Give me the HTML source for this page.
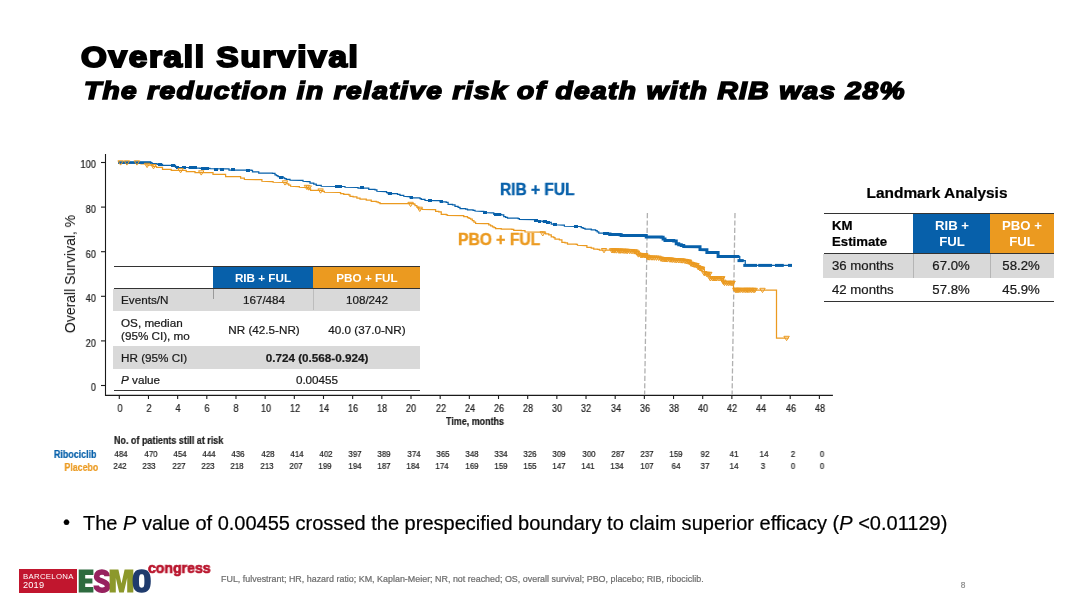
<!DOCTYPE html>
<html><head><meta charset="utf-8"><title>Overall Survival</title>
<style>
html,body{margin:0;padding:0;background:#fff;}
body{width:1067px;height:600px;position:relative;overflow:hidden;font-family:"Liberation Sans",sans-serif;}
.t{position:absolute;white-space:nowrap;color:#000;will-change:transform;-webkit-text-stroke:0.22px currentColor;}
.b{position:absolute;}
</style></head><body>
<svg width="1067" height="600" style="position:absolute;left:0;top:0">
<g stroke="#1a1a1a" stroke-width="1.1" fill="none">
<path d="M105.5 154 V395.4 H832.9"/>
<path d="M101 385.50 H105.5"/>
<path d="M101 340.90 H105.5"/>
<path d="M101 296.30 H105.5"/>
<path d="M101 251.70 H105.5"/>
<path d="M101 207.10 H105.5"/>
<path d="M101 162.50 H105.5"/>
<path d="M119.30 395.4 V399"/>
<path d="M148.47 395.4 V399"/>
<path d="M177.64 395.4 V399"/>
<path d="M206.81 395.4 V399"/>
<path d="M235.98 395.4 V399"/>
<path d="M265.15 395.4 V399"/>
<path d="M294.32 395.4 V399"/>
<path d="M323.49 395.4 V399"/>
<path d="M352.66 395.4 V399"/>
<path d="M381.83 395.4 V399"/>
<path d="M411.00 395.4 V399"/>
<path d="M440.17 395.4 V399"/>
<path d="M469.34 395.4 V399"/>
<path d="M498.51 395.4 V399"/>
<path d="M527.68 395.4 V399"/>
<path d="M556.85 395.4 V399"/>
<path d="M586.02 395.4 V399"/>
<path d="M615.19 395.4 V399"/>
<path d="M644.36 395.4 V399"/>
<path d="M673.53 395.4 V399"/>
<path d="M702.70 395.4 V399"/>
<path d="M731.87 395.4 V399"/>
<path d="M761.04 395.4 V399"/>
<path d="M790.21 395.4 V399"/>
<path d="M819.38 395.4 V399"/>
</g>
<g stroke="#b0b0b0" stroke-width="1.3" stroke-dasharray="5.2 2.2" fill="none">
<path d="M647.4 213 L644.6 394.8"/>
<path d="M735 213 L732.1 394.8"/>
</g>
<polyline points="118.10,162.50 140.00,162.50 141.00,162.50 141.00,163.75 146.00,163.75 147.00,163.75 147.00,165.00 152.00,165.00 153.00,165.00 153.00,166.25 156.00,166.25 156.50,166.25 156.50,167.25 162.50,167.25 162.50,169.40 171.25,169.40 171.25,170.25 186.25,170.25 186.25,171.50 195.00,171.50 195.00,172.50 211.50,172.50 213.00,172.50 213.00,174.40 225.00,174.40 225.60,174.40 225.60,176.50 238.75,176.50 240.60,176.50 240.60,178.10 244.40,178.10 244.40,179.40 260.00,179.60 261.90,179.60 261.90,181.25 271.90,181.50 273.10,181.50 273.10,182.25 285.00,182.50 286.88,182.50 286.88,183.75 288.75,183.75 288.75,185.00 290.60,185.00 290.60,186.25 298.10,186.50 299.40,186.50 299.40,187.25 307.50,187.50 309.05,187.50 309.05,188.88 310.60,188.88 310.60,190.25 321.25,190.25 321.25,190.60 322.82,190.60 322.82,191.43 324.40,191.43 324.40,192.25 338.75,192.50 340.60,192.50 340.60,193.50 343.75,193.50 343.75,194.40 348.75,194.40 348.75,194.75 350.00,194.75 350.00,196.25 353.10,196.25 353.10,196.90 356.90,196.90 356.90,198.10 360.00,198.10 360.00,199.20 366.25,199.20 366.25,200.00 371.25,200.00 371.25,201.25 376.25,201.25 376.25,201.90 378.12,201.90 378.12,202.70 380.00,202.70 380.00,203.50 413.75,203.50 413.75,204.00 415.00,204.00 415.00,205.60 416.88,205.60 416.88,207.18 418.75,207.18 418.75,208.75 422.50,208.75 422.50,209.40 434.40,209.60 435.60,209.60 435.60,211.25 438.75,211.25 438.75,211.90 441.25,211.90 441.25,214.40 446.25,214.40 446.25,214.75 447.50,214.75 447.50,215.40 461.90,215.60 463.75,215.60 463.75,216.60 467.50,216.60 467.50,217.50 469.05,217.50 469.05,218.25 470.60,218.25 470.60,219.00 472.27,219.00 472.27,220.50 473.93,220.50 473.93,222.00 475.60,222.00 475.60,223.50 485.00,223.60 488.75,223.60 488.75,224.75 490.62,224.75 490.62,225.82 492.50,225.82 492.50,226.90 494.05,226.90 494.05,227.70 495.60,227.70 495.60,228.50 501.25,228.50 501.25,229.00 511.90,229.00 511.90,229.40 513.75,229.40 513.75,230.25 521.25,230.25 521.25,230.60 525.00,230.60 525.00,231.90 540.00,232.10 542.80,232.10 542.80,232.93 545.60,232.93 545.60,233.75 548.75,233.75 548.75,234.75 551.25,234.75 551.25,236.90 553.75,236.90 553.75,237.50 555.00,237.50 555.00,239.00 559.40,239.00 559.40,239.75 561.90,239.75 561.90,242.25 565.00,242.25 565.00,242.90 567.50,242.90 567.50,244.10 576.25,244.10 576.25,244.40 577.50,244.40 577.50,245.25 585.00,245.50 586.90,245.50 586.90,247.25 591.25,247.25 591.25,248.10 593.75,248.10 593.75,249.00 597.50,249.00 597.50,249.40 599.40,249.40 599.40,250.00 612.00,250.00 612.00,250.40 625.00,250.40 625.00,250.90 631.00,251.20 636.25,251.20 636.25,251.70 638.75,251.70 638.75,255.00 646.25,255.00 646.25,255.40 647.50,255.40 647.50,257.50 660.00,257.50 660.00,257.90 661.25,257.90 661.25,259.10 670.00,259.10 670.00,259.60 675.00,259.60 675.00,260.20 683.00,260.20 683.00,260.60 689.40,260.60 689.40,261.90 691.25,261.90 691.25,264.10 696.90,264.10 696.90,265.40 698.75,265.40 698.75,268.10 703.75,268.10 703.75,269.20 704.40,269.20 704.40,274.00 709.40,274.00 710.00,274.00 710.00,278.40 723.10,278.40 723.50,278.40 723.50,283.00 733.50,283.00 733.50,290.00 776.50,290.00 776.50,338.00 788.50,338.00" fill="none" stroke="#eb9a20" stroke-width="1.25"/>
<polyline points="118.10,162.50 151.00,162.50 152.00,162.50 152.00,163.60 157.00,163.60 157.00,164.40 162.00,164.40 162.50,164.40 162.50,165.25 175.00,165.25 175.50,165.25 175.50,167.40 188.00,167.50 189.00,167.50 189.00,168.00 200.00,168.00 200.00,168.30 210.00,168.30 210.00,168.75 228.00,168.90 229.00,168.90 229.00,170.00 235.00,170.00 251.25,170.00 251.25,170.40 252.50,170.40 252.50,171.90 258.75,171.90 258.75,173.10 272.50,173.10 272.50,173.40 275.00,173.40 275.00,174.75 276.50,174.75 276.50,175.62 278.00,175.62 278.00,176.50 283.00,176.50 283.00,177.75 284.62,177.75 284.62,178.57 286.25,178.57 286.25,179.40 290.00,179.40 290.00,180.25 301.25,180.40 303.00,180.40 303.00,181.25 308.00,181.50 310.00,181.50 310.00,183.10 313.75,183.10 313.75,184.00 316.25,184.00 316.25,185.40 321.25,185.40 321.25,186.25 343.75,186.50 345.00,186.50 345.00,187.25 356.90,187.50 358.00,187.50 358.00,188.10 365.00,188.10 368.75,188.10 368.75,189.40 375.00,189.40 375.00,189.75 376.90,189.75 376.90,191.25 385.00,191.50 386.55,191.50 386.55,192.50 388.10,192.50 388.10,193.50 397.50,193.50 397.50,194.40 400.00,194.40 400.00,195.40 403.75,195.40 403.75,196.25 408.10,196.50 410.00,196.50 410.00,197.75 420.00,197.75 420.00,198.50 421.25,198.50 421.25,199.40 425.00,199.40 425.00,200.40 436.25,200.60 440.00,200.60 440.00,201.90 446.25,201.90 446.25,202.25 448.10,202.25 448.10,204.40 452.50,204.40 452.50,204.75 455.00,204.75 455.00,206.25 458.10,206.25 458.10,207.25 460.00,207.25 460.00,208.50 465.60,208.50 465.60,209.00 467.50,209.00 467.50,209.75 473.10,209.75 473.10,210.25 475.00,210.25 475.00,211.00 481.90,211.25 483.75,211.25 483.75,212.50 491.25,212.75 493.75,212.75 493.75,214.40 501.25,214.40 501.25,214.75 503.75,214.75 503.75,216.50 505.62,216.50 505.62,217.30 507.50,217.30 507.50,218.10 518.10,218.10 518.10,218.50 519.40,218.50 519.40,219.40 534.40,219.60 536.25,219.60 536.25,221.00 542.50,221.00 542.50,221.50 548.75,221.50 548.75,222.25 551.25,222.25 551.25,224.00 556.25,224.00 556.25,224.75 562.50,225.00 564.40,225.00 564.40,226.25 578.75,226.50 581.25,226.50 581.25,227.50 583.12,227.50 583.12,228.25 585.00,228.25 585.00,229.00 591.25,229.00 591.25,229.75 595.60,229.75 595.60,230.60 597.17,230.60 597.17,231.80 598.75,231.80 598.75,233.00 606.00,233.00 606.00,233.50 610.00,233.50 610.00,234.40 620.00,234.40 620.00,234.75 621.25,234.75 621.25,235.60 643.75,235.60 646.25,235.60 646.25,236.90 661.25,236.90 661.25,237.25 663.12,237.25 663.12,238.93 665.00,238.93 665.00,240.60 673.75,240.60 673.75,241.00 676.25,241.00 676.25,243.75 678.75,243.75 678.75,244.68 681.25,244.68 681.25,245.60 683.75,245.60 683.75,246.50 699.40,246.75 700.00,246.75 700.00,249.60 706.25,249.75 706.90,249.75 706.90,252.40 717.50,252.50 718.10,252.50 718.10,256.50 739.40,256.50 739.75,256.50 739.75,260.60 745.00,260.60 745.25,260.60 745.25,265.40 791.90,265.40" fill="none" stroke="#0760aa" stroke-width="1.25"/>
<rect x="158.10" y="162.90" width="3.8" height="3" fill="#0760aa" shape-rendering="crispEdges"/>
<rect x="171.20" y="163.90" width="3.8" height="3" fill="#0760aa" shape-rendering="crispEdges"/>
<rect x="175.60" y="166.00" width="3.8" height="3" fill="#0760aa" shape-rendering="crispEdges"/>
<rect x="181.85" y="166.00" width="3.8" height="3" fill="#0760aa" shape-rendering="crispEdges"/>
<rect x="189.35" y="166.40" width="3.8" height="3" fill="#0760aa" shape-rendering="crispEdges"/>
<rect x="193.10" y="166.40" width="3.8" height="3" fill="#0760aa" shape-rendering="crispEdges"/>
<rect x="201.20" y="167.00" width="3.8" height="3" fill="#0760aa" shape-rendering="crispEdges"/>
<rect x="205.00" y="167.00" width="3.8" height="3" fill="#0760aa" shape-rendering="crispEdges"/>
<rect x="213.70" y="167.50" width="3.8" height="3" fill="#0760aa" shape-rendering="crispEdges"/>
<rect x="220.00" y="167.50" width="3.8" height="3" fill="#0760aa" shape-rendering="crispEdges"/>
<rect x="231.20" y="168.10" width="3.8" height="3" fill="#0760aa" shape-rendering="crispEdges"/>
<rect x="246.00" y="168.90" width="3.8" height="3" fill="#0760aa" shape-rendering="crispEdges"/>
<rect x="279.10" y="175.75" width="3.8" height="3" fill="#0760aa" shape-rendering="crispEdges"/>
<rect x="335.00" y="185.00" width="3.8" height="3" fill="#0760aa" shape-rendering="crispEdges"/>
<rect x="338.10" y="185.00" width="3.8" height="3" fill="#0760aa" shape-rendering="crispEdges"/>
<rect x="360.00" y="186.10" width="3.8" height="3" fill="#0760aa" shape-rendering="crispEdges"/>
<rect x="387.70" y="191.90" width="3.8" height="3" fill="#0760aa" shape-rendering="crispEdges"/>
<rect x="409.60" y="196.00" width="3.8" height="3" fill="#0760aa" shape-rendering="crispEdges"/>
<rect x="428.10" y="199.00" width="3.8" height="3" fill="#0760aa" shape-rendering="crispEdges"/>
<rect x="439.60" y="200.20" width="3.8" height="3" fill="#0760aa" shape-rendering="crispEdges"/>
<rect x="483.10" y="211.00" width="3.8" height="3" fill="#0760aa" shape-rendering="crispEdges"/>
<rect x="493.70" y="213.00" width="3.8" height="3" fill="#0760aa" shape-rendering="crispEdges"/>
<rect x="496.85" y="213.10" width="3.8" height="3" fill="#0760aa" shape-rendering="crispEdges"/>
<rect x="534.35" y="219.40" width="3.8" height="3" fill="#0760aa" shape-rendering="crispEdges"/>
<rect x="537.50" y="219.90" width="3.8" height="3" fill="#0760aa" shape-rendering="crispEdges"/>
<rect x="543.10" y="220.20" width="3.8" height="3" fill="#0760aa" shape-rendering="crispEdges"/>
<rect x="546.20" y="220.75" width="3.8" height="3" fill="#0760aa" shape-rendering="crispEdges"/>
<rect x="553.10" y="223.00" width="3.8" height="3" fill="#0760aa" shape-rendering="crispEdges"/>
<rect x="574.35" y="224.90" width="3.8" height="3" fill="#0760aa" shape-rendering="crispEdges"/>
<rect x="602.50" y="231.50" width="3.8" height="3" fill="#0760aa" shape-rendering="crispEdges"/>
<rect x="605.00" y="232.00" width="3.8" height="3" fill="#0760aa" shape-rendering="crispEdges"/>
<polyline points="608.00,233.95 610.00,233.95 610.00,234.40 620.00,234.40 620.00,234.75 621.25,234.75 621.25,235.60 643.75,235.60 646.25,235.60 646.25,236.90 661.25,236.90 661.25,237.25 663.12,237.25 663.12,238.93 665.00,238.93 665.00,240.60 673.75,240.60 673.75,241.00 676.25,241.00 676.25,243.75 678.75,243.75 678.75,244.68 681.25,244.68 681.25,245.60 683.75,245.60 683.75,246.50 699.40,246.75 700.00,246.75 700.00,249.60 706.25,249.75 706.90,249.75 706.90,252.40 717.50,252.50 718.10,252.50 718.10,256.50 739.40,256.50" fill="none" stroke="#0760aa" stroke-width="3" stroke-linejoin="miter"/>
<rect x="737.50" y="259.10" width="6.25" height="3" fill="#0760aa"/>
<rect x="743.30" y="263.90" width="13.70" height="3" fill="#0760aa"/>
<rect x="758.20" y="263.90" width="13.80" height="3" fill="#0760aa"/>
<rect x="775.00" y="263.90" width="8.80" height="3" fill="#0760aa"/>
<rect x="788.00" y="263.90" width="4.00" height="3" fill="#0760aa"/>
<rect x="118.1" y="161.2" width="33.2" height="2.7" fill="#0760aa"/>
<path d="M117.90 160.80 h5.4 l-2.7 4.3 z" fill="#eb9a20" fill-opacity="0" stroke="#eb9a20" stroke-width="1" stroke-linejoin="miter"/>
<path d="M124.20 160.80 h5.4 l-2.7 4.3 z" fill="#eb9a20" fill-opacity="0" stroke="#eb9a20" stroke-width="1" stroke-linejoin="miter"/>
<path d="M134.20 160.80 h5.4 l-2.7 4.3 z" fill="#eb9a20" fill-opacity="0" stroke="#eb9a20" stroke-width="1" stroke-linejoin="miter"/>
<path d="M144.40 163.30 h5.4 l-2.7 4.3 z" fill="#eb9a20" fill-opacity="0" stroke="#eb9a20" stroke-width="1" stroke-linejoin="miter"/>
<path d="M150.80 164.55 h5.4 l-2.7 4.3 z" fill="#eb9a20" fill-opacity="0" stroke="#eb9a20" stroke-width="1" stroke-linejoin="miter"/>
<path d="M177.90 168.55 h5.4 l-2.7 4.3 z" fill="#eb9a20" fill-opacity="0" stroke="#eb9a20" stroke-width="1" stroke-linejoin="miter"/>
<path d="M198.55 170.80 h5.4 l-2.7 4.3 z" fill="#eb9a20" fill-opacity="0" stroke="#eb9a20" stroke-width="1" stroke-linejoin="miter"/>
<path d="M282.30 180.80 h5.4 l-2.7 4.3 z" fill="#eb9a20" fill-opacity="0" stroke="#eb9a20" stroke-width="1" stroke-linejoin="miter"/>
<path d="M304.20 185.30 h5.4 l-2.7 4.3 z" fill="#eb9a20" fill-opacity="0" stroke="#eb9a20" stroke-width="1" stroke-linejoin="miter"/>
<path d="M306.05 185.90 h5.4 l-2.7 4.3 z" fill="#eb9a20" fill-opacity="0" stroke="#eb9a20" stroke-width="1" stroke-linejoin="miter"/>
<path d="M317.90 188.90 h5.4 l-2.7 4.3 z" fill="#eb9a20" fill-opacity="0" stroke="#eb9a20" stroke-width="1" stroke-linejoin="miter"/>
<path d="M407.90 202.30 h5.4 l-2.7 4.3 z" fill="#eb9a20" fill-opacity="0" stroke="#eb9a20" stroke-width="1" stroke-linejoin="miter"/>
<path d="M417.05 207.20 h5.4 l-2.7 4.3 z" fill="#eb9a20" fill-opacity="0" stroke="#eb9a20" stroke-width="1" stroke-linejoin="miter"/>
<path d="M540.05 231.70 h5.4 l-2.7 4.3 z" fill="#eb9a20" fill-opacity="0" stroke="#eb9a20" stroke-width="1" stroke-linejoin="miter"/>
<path d="M601.30 248.50 h5.4 l-2.7 4.3 z" fill="#eb9a20" fill-opacity="0" stroke="#eb9a20" stroke-width="1" stroke-linejoin="miter"/>
<path d="M759.80 288.30 h5.4 l-2.7 4.3 z" fill="#eb9a20" fill-opacity="0" stroke="#eb9a20" stroke-width="1" stroke-linejoin="miter"/>
<path d="M783.90 336.30 h5.4 l-2.7 4.3 z" fill="#eb9a20" fill-opacity="0" stroke="#eb9a20" stroke-width="1" stroke-linejoin="miter"/>
<path d="M609.30 248.70 h5.4 l-2.7 4.3 z" fill="#eb9a20" fill-opacity="0.35" stroke="#eb9a20" stroke-width="1" stroke-linejoin="miter"/>
<path d="M610.70 248.75 h5.4 l-2.7 4.3 z" fill="#eb9a20" fill-opacity="0.35" stroke="#eb9a20" stroke-width="1" stroke-linejoin="miter"/>
<path d="M612.10 248.81 h5.4 l-2.7 4.3 z" fill="#eb9a20" fill-opacity="0.35" stroke="#eb9a20" stroke-width="1" stroke-linejoin="miter"/>
<path d="M613.80 248.87 h5.4 l-2.7 4.3 z" fill="#eb9a20" fill-opacity="0.35" stroke="#eb9a20" stroke-width="1" stroke-linejoin="miter"/>
<path d="M616.00 248.96 h5.4 l-2.7 4.3 z" fill="#eb9a20" fill-opacity="0.35" stroke="#eb9a20" stroke-width="1" stroke-linejoin="miter"/>
<path d="M617.10 249.00 h5.4 l-2.7 4.3 z" fill="#eb9a20" fill-opacity="0.35" stroke="#eb9a20" stroke-width="1" stroke-linejoin="miter"/>
<path d="M618.20 249.04 h5.4 l-2.7 4.3 z" fill="#eb9a20" fill-opacity="0.35" stroke="#eb9a20" stroke-width="1" stroke-linejoin="miter"/>
<path d="M620.40 249.13 h5.4 l-2.7 4.3 z" fill="#eb9a20" fill-opacity="0.35" stroke="#eb9a20" stroke-width="1" stroke-linejoin="miter"/>
<path d="M622.10 249.19 h5.4 l-2.7 4.3 z" fill="#eb9a20" fill-opacity="0.35" stroke="#eb9a20" stroke-width="1" stroke-linejoin="miter"/>
<path d="M623.50 249.26 h5.4 l-2.7 4.3 z" fill="#eb9a20" fill-opacity="0.35" stroke="#eb9a20" stroke-width="1" stroke-linejoin="miter"/>
<path d="M624.90 249.33 h5.4 l-2.7 4.3 z" fill="#eb9a20" fill-opacity="0.35" stroke="#eb9a20" stroke-width="1" stroke-linejoin="miter"/>
<path d="M627.10 249.44 h5.4 l-2.7 4.3 z" fill="#eb9a20" fill-opacity="0.35" stroke="#eb9a20" stroke-width="1" stroke-linejoin="miter"/>
<path d="M629.30 249.60 h5.4 l-2.7 4.3 z" fill="#eb9a20" fill-opacity="0.35" stroke="#eb9a20" stroke-width="1" stroke-linejoin="miter"/>
<path d="M631.50 249.80 h5.4 l-2.7 4.3 z" fill="#eb9a20" fill-opacity="0.35" stroke="#eb9a20" stroke-width="1" stroke-linejoin="miter"/>
<path d="M632.90 249.94 h5.4 l-2.7 4.3 z" fill="#eb9a20" fill-opacity="0.35" stroke="#eb9a20" stroke-width="1" stroke-linejoin="miter"/>
<path d="M634.30 250.99 h5.4 l-2.7 4.3 z" fill="#eb9a20" fill-opacity="0.35" stroke="#eb9a20" stroke-width="1" stroke-linejoin="miter"/>
<path d="M635.70 252.84 h5.4 l-2.7 4.3 z" fill="#eb9a20" fill-opacity="0.35" stroke="#eb9a20" stroke-width="1" stroke-linejoin="miter"/>
<path d="M637.90 253.40 h5.4 l-2.7 4.3 z" fill="#eb9a20" fill-opacity="0.35" stroke="#eb9a20" stroke-width="1" stroke-linejoin="miter"/>
<path d="M639.00 253.46 h5.4 l-2.7 4.3 z" fill="#eb9a20" fill-opacity="0.35" stroke="#eb9a20" stroke-width="1" stroke-linejoin="miter"/>
<path d="M640.10 253.52 h5.4 l-2.7 4.3 z" fill="#eb9a20" fill-opacity="0.35" stroke="#eb9a20" stroke-width="1" stroke-linejoin="miter"/>
<path d="M641.50 253.59 h5.4 l-2.7 4.3 z" fill="#eb9a20" fill-opacity="0.35" stroke="#eb9a20" stroke-width="1" stroke-linejoin="miter"/>
<path d="M642.60 253.65 h5.4 l-2.7 4.3 z" fill="#eb9a20" fill-opacity="0.35" stroke="#eb9a20" stroke-width="1" stroke-linejoin="miter"/>
<path d="M644.30 254.96 h5.4 l-2.7 4.3 z" fill="#eb9a20" fill-opacity="0.35" stroke="#eb9a20" stroke-width="1" stroke-linejoin="miter"/>
<path d="M645.40 255.82 h5.4 l-2.7 4.3 z" fill="#eb9a20" fill-opacity="0.35" stroke="#eb9a20" stroke-width="1" stroke-linejoin="miter"/>
<path d="M647.10 255.87 h5.4 l-2.7 4.3 z" fill="#eb9a20" fill-opacity="0.35" stroke="#eb9a20" stroke-width="1" stroke-linejoin="miter"/>
<path d="M649.30 255.94 h5.4 l-2.7 4.3 z" fill="#eb9a20" fill-opacity="0.35" stroke="#eb9a20" stroke-width="1" stroke-linejoin="miter"/>
<path d="M651.50 256.01 h5.4 l-2.7 4.3 z" fill="#eb9a20" fill-opacity="0.35" stroke="#eb9a20" stroke-width="1" stroke-linejoin="miter"/>
<path d="M653.70 256.08 h5.4 l-2.7 4.3 z" fill="#eb9a20" fill-opacity="0.35" stroke="#eb9a20" stroke-width="1" stroke-linejoin="miter"/>
<path d="M655.90 256.16 h5.4 l-2.7 4.3 z" fill="#eb9a20" fill-opacity="0.35" stroke="#eb9a20" stroke-width="1" stroke-linejoin="miter"/>
<path d="M658.10 256.97 h5.4 l-2.7 4.3 z" fill="#eb9a20" fill-opacity="0.35" stroke="#eb9a20" stroke-width="1" stroke-linejoin="miter"/>
<path d="M659.50 257.45 h5.4 l-2.7 4.3 z" fill="#eb9a20" fill-opacity="0.35" stroke="#eb9a20" stroke-width="1" stroke-linejoin="miter"/>
<path d="M661.20 257.55 h5.4 l-2.7 4.3 z" fill="#eb9a20" fill-opacity="0.35" stroke="#eb9a20" stroke-width="1" stroke-linejoin="miter"/>
<path d="M662.30 257.61 h5.4 l-2.7 4.3 z" fill="#eb9a20" fill-opacity="0.35" stroke="#eb9a20" stroke-width="1" stroke-linejoin="miter"/>
<path d="M663.40 257.68 h5.4 l-2.7 4.3 z" fill="#eb9a20" fill-opacity="0.35" stroke="#eb9a20" stroke-width="1" stroke-linejoin="miter"/>
<path d="M664.80 257.76 h5.4 l-2.7 4.3 z" fill="#eb9a20" fill-opacity="0.35" stroke="#eb9a20" stroke-width="1" stroke-linejoin="miter"/>
<path d="M667.00 257.88 h5.4 l-2.7 4.3 z" fill="#eb9a20" fill-opacity="0.35" stroke="#eb9a20" stroke-width="1" stroke-linejoin="miter"/>
<path d="M668.40 258.03 h5.4 l-2.7 4.3 z" fill="#eb9a20" fill-opacity="0.35" stroke="#eb9a20" stroke-width="1" stroke-linejoin="miter"/>
<path d="M670.10 258.24 h5.4 l-2.7 4.3 z" fill="#eb9a20" fill-opacity="0.35" stroke="#eb9a20" stroke-width="1" stroke-linejoin="miter"/>
<path d="M672.30 258.50 h5.4 l-2.7 4.3 z" fill="#eb9a20" fill-opacity="0.35" stroke="#eb9a20" stroke-width="1" stroke-linejoin="miter"/>
<path d="M674.00 258.59 h5.4 l-2.7 4.3 z" fill="#eb9a20" fill-opacity="0.35" stroke="#eb9a20" stroke-width="1" stroke-linejoin="miter"/>
<path d="M676.20 258.70 h5.4 l-2.7 4.3 z" fill="#eb9a20" fill-opacity="0.35" stroke="#eb9a20" stroke-width="1" stroke-linejoin="miter"/>
<path d="M678.40 258.81 h5.4 l-2.7 4.3 z" fill="#eb9a20" fill-opacity="0.35" stroke="#eb9a20" stroke-width="1" stroke-linejoin="miter"/>
<path d="M680.10 258.89 h5.4 l-2.7 4.3 z" fill="#eb9a20" fill-opacity="0.35" stroke="#eb9a20" stroke-width="1" stroke-linejoin="miter"/>
<path d="M682.30 259.31 h5.4 l-2.7 4.3 z" fill="#eb9a20" fill-opacity="0.35" stroke="#eb9a20" stroke-width="1" stroke-linejoin="miter"/>
<path d="M683.70 259.59 h5.4 l-2.7 4.3 z" fill="#eb9a20" fill-opacity="0.35" stroke="#eb9a20" stroke-width="1" stroke-linejoin="miter"/>
<path d="M685.40 259.94 h5.4 l-2.7 4.3 z" fill="#eb9a20" fill-opacity="0.35" stroke="#eb9a20" stroke-width="1" stroke-linejoin="miter"/>
<path d="M686.50 260.16 h5.4 l-2.7 4.3 z" fill="#eb9a20" fill-opacity="0.35" stroke="#eb9a20" stroke-width="1" stroke-linejoin="miter"/>
<path d="M688.20 261.98 h5.4 l-2.7 4.3 z" fill="#eb9a20" fill-opacity="0.35" stroke="#eb9a20" stroke-width="1" stroke-linejoin="miter"/>
<path d="M689.60 262.64 h5.4 l-2.7 4.3 z" fill="#eb9a20" fill-opacity="0.35" stroke="#eb9a20" stroke-width="1" stroke-linejoin="miter"/>
<path d="M691.30 263.03 h5.4 l-2.7 4.3 z" fill="#eb9a20" fill-opacity="0.35" stroke="#eb9a20" stroke-width="1" stroke-linejoin="miter"/>
<path d="M692.40 263.29 h5.4 l-2.7 4.3 z" fill="#eb9a20" fill-opacity="0.35" stroke="#eb9a20" stroke-width="1" stroke-linejoin="miter"/>
<path d="M693.80 263.61 h5.4 l-2.7 4.3 z" fill="#eb9a20" fill-opacity="0.35" stroke="#eb9a20" stroke-width="1" stroke-linejoin="miter"/>
<path d="M695.50 265.60 h5.4 l-2.7 4.3 z" fill="#eb9a20" fill-opacity="0.35" stroke="#eb9a20" stroke-width="1" stroke-linejoin="miter"/>
<path d="M697.20 266.65 h5.4 l-2.7 4.3 z" fill="#eb9a20" fill-opacity="0.35" stroke="#eb9a20" stroke-width="1" stroke-linejoin="miter"/>
<path d="M698.30 266.90 h5.4 l-2.7 4.3 z" fill="#eb9a20" fill-opacity="0.35" stroke="#eb9a20" stroke-width="1" stroke-linejoin="miter"/>
<path d="M699.40 267.14 h5.4 l-2.7 4.3 z" fill="#eb9a20" fill-opacity="0.35" stroke="#eb9a20" stroke-width="1" stroke-linejoin="miter"/>
<path d="M701.60 271.56 h5.4 l-2.7 4.3 z" fill="#eb9a20" fill-opacity="0.35" stroke="#eb9a20" stroke-width="1" stroke-linejoin="miter"/>
<path d="M703.80 272.30 h5.4 l-2.7 4.3 z" fill="#eb9a20" fill-opacity="0.35" stroke="#eb9a20" stroke-width="1" stroke-linejoin="miter"/>
<path d="M704.90 272.30 h5.4 l-2.7 4.3 z" fill="#eb9a20" fill-opacity="0.35" stroke="#eb9a20" stroke-width="1" stroke-linejoin="miter"/>
<path d="M706.60 272.30 h5.4 l-2.7 4.3 z" fill="#eb9a20" fill-opacity="0.35" stroke="#eb9a20" stroke-width="1" stroke-linejoin="miter"/>
<path d="M707.70 276.70 h5.4 l-2.7 4.3 z" fill="#eb9a20" fill-opacity="0.35" stroke="#eb9a20" stroke-width="1" stroke-linejoin="miter"/>
<path d="M709.90 276.70 h5.4 l-2.7 4.3 z" fill="#eb9a20" fill-opacity="0.35" stroke="#eb9a20" stroke-width="1" stroke-linejoin="miter"/>
<path d="M711.30 276.70 h5.4 l-2.7 4.3 z" fill="#eb9a20" fill-opacity="0.35" stroke="#eb9a20" stroke-width="1" stroke-linejoin="miter"/>
<path d="M712.40 276.70 h5.4 l-2.7 4.3 z" fill="#eb9a20" fill-opacity="0.35" stroke="#eb9a20" stroke-width="1" stroke-linejoin="miter"/>
<path d="M714.10 276.70 h5.4 l-2.7 4.3 z" fill="#eb9a20" fill-opacity="0.35" stroke="#eb9a20" stroke-width="1" stroke-linejoin="miter"/>
<path d="M716.30 276.70 h5.4 l-2.7 4.3 z" fill="#eb9a20" fill-opacity="0.35" stroke="#eb9a20" stroke-width="1" stroke-linejoin="miter"/>
<path d="M718.50 276.70 h5.4 l-2.7 4.3 z" fill="#eb9a20" fill-opacity="0.35" stroke="#eb9a20" stroke-width="1" stroke-linejoin="miter"/>
<path d="M719.60 276.70 h5.4 l-2.7 4.3 z" fill="#eb9a20" fill-opacity="0.35" stroke="#eb9a20" stroke-width="1" stroke-linejoin="miter"/>
<path d="M720.70 280.15 h5.4 l-2.7 4.3 z" fill="#eb9a20" fill-opacity="0.35" stroke="#eb9a20" stroke-width="1" stroke-linejoin="miter"/>
<path d="M721.80 281.30 h5.4 l-2.7 4.3 z" fill="#eb9a20" fill-opacity="0.35" stroke="#eb9a20" stroke-width="1" stroke-linejoin="miter"/>
<path d="M724.00 281.30 h5.4 l-2.7 4.3 z" fill="#eb9a20" fill-opacity="0.35" stroke="#eb9a20" stroke-width="1" stroke-linejoin="miter"/>
<path d="M725.70 281.30 h5.4 l-2.7 4.3 z" fill="#eb9a20" fill-opacity="0.35" stroke="#eb9a20" stroke-width="1" stroke-linejoin="miter"/>
<path d="M727.40 281.30 h5.4 l-2.7 4.3 z" fill="#eb9a20" fill-opacity="0.35" stroke="#eb9a20" stroke-width="1" stroke-linejoin="miter"/>
<path d="M728.80 281.30 h5.4 l-2.7 4.3 z" fill="#eb9a20" fill-opacity="0.35" stroke="#eb9a20" stroke-width="1" stroke-linejoin="miter"/>
<path d="M729.90 281.30 h5.4 l-2.7 4.3 z" fill="#eb9a20" fill-opacity="0.35" stroke="#eb9a20" stroke-width="1" stroke-linejoin="miter"/>
<path d="M732.70 288.30 h5.4 l-2.7 4.3 z" fill="#eb9a20" fill-opacity="0.35" stroke="#eb9a20" stroke-width="1" stroke-linejoin="miter"/>
<path d="M733.80 288.30 h5.4 l-2.7 4.3 z" fill="#eb9a20" fill-opacity="0.35" stroke="#eb9a20" stroke-width="1" stroke-linejoin="miter"/>
<path d="M734.90 288.30 h5.4 l-2.7 4.3 z" fill="#eb9a20" fill-opacity="0.35" stroke="#eb9a20" stroke-width="1" stroke-linejoin="miter"/>
<path d="M736.00 288.30 h5.4 l-2.7 4.3 z" fill="#eb9a20" fill-opacity="0.35" stroke="#eb9a20" stroke-width="1" stroke-linejoin="miter"/>
<path d="M737.40 288.30 h5.4 l-2.7 4.3 z" fill="#eb9a20" fill-opacity="0.35" stroke="#eb9a20" stroke-width="1" stroke-linejoin="miter"/>
<path d="M739.60 288.30 h5.4 l-2.7 4.3 z" fill="#eb9a20" fill-opacity="0.35" stroke="#eb9a20" stroke-width="1" stroke-linejoin="miter"/>
<path d="M741.30 288.30 h5.4 l-2.7 4.3 z" fill="#eb9a20" fill-opacity="0.35" stroke="#eb9a20" stroke-width="1" stroke-linejoin="miter"/>
<path d="M743.00 288.30 h5.4 l-2.7 4.3 z" fill="#eb9a20" fill-opacity="0.35" stroke="#eb9a20" stroke-width="1" stroke-linejoin="miter"/>
<path d="M744.40 288.30 h5.4 l-2.7 4.3 z" fill="#eb9a20" fill-opacity="0.35" stroke="#eb9a20" stroke-width="1" stroke-linejoin="miter"/>
<path d="M745.50 288.30 h5.4 l-2.7 4.3 z" fill="#eb9a20" fill-opacity="0.35" stroke="#eb9a20" stroke-width="1" stroke-linejoin="miter"/>
<path d="M747.20 288.30 h5.4 l-2.7 4.3 z" fill="#eb9a20" fill-opacity="0.35" stroke="#eb9a20" stroke-width="1" stroke-linejoin="miter"/>
<path d="M748.90 288.30 h5.4 l-2.7 4.3 z" fill="#eb9a20" fill-opacity="0.35" stroke="#eb9a20" stroke-width="1" stroke-linejoin="miter"/>
<path d="M750.60 288.30 h5.4 l-2.7 4.3 z" fill="#eb9a20" fill-opacity="0.35" stroke="#eb9a20" stroke-width="1" stroke-linejoin="miter"/>
<path d="M752.00 288.30 h5.4 l-2.7 4.3 z" fill="#eb9a20" fill-opacity="0.35" stroke="#eb9a20" stroke-width="1" stroke-linejoin="miter"/>
</svg>
<!-- titles -->
<div class="t" id="title" style="left:80.6px;top:36.7px;font-size:29px;line-height:40px;font-weight:bold;transform:scaleX(1.145);transform-origin:left center;-webkit-text-stroke:2px #000;letter-spacing:1.5px;">Overall Survival</div>
<div class="t" id="sub" style="left:84.2px;top:73.9px;font-size:24.5px;line-height:34px;font-weight:bold;font-style:italic;transform:scaleX(1.147);transform-origin:left center;-webkit-text-stroke:1.6px #000;letter-spacing:1.2px;">The reduction in relative risk of death with RIB was 28%</div>
<div class="t" id="ylab" style="left:70.2px;top:273.9px;font-size:14px;line-height:16px;color:#111;-webkit-text-stroke:0;transform:translate(-50%,-50%) rotate(-90deg);transform-origin:center center;">Overall Survival, %</div>

<!-- inset table -->
<div class="b" style="left:113.5px;top:266px;width:306.5px;height:1.2px;background:#333;"></div>
<div class="b" style="left:213px;top:267px;width:99.8px;height:21px;background:#0760aa;"></div>
<div class="b" style="left:312.8px;top:267px;width:107.2px;height:21px;background:#eb9a20;"></div>
<div class="b" style="left:113.5px;top:287.7px;width:306.5px;height:1.1px;background:#333;"></div>
<div class="b" style="left:113.2px;top:288.8px;width:306.8px;height:22px;background:#d9d9d9;"></div>
<div class="b" style="left:212.7px;top:288.8px;width:0.8px;height:10.5px;background:#9a9a9a;"></div>
<div class="b" style="left:312.5px;top:288.8px;width:0.8px;height:21.6px;background:#bdbdbd;"></div>
<div class="b" style="left:113.2px;top:346.1px;width:306.8px;height:22.5px;background:#d9d9d9;"></div>
<div class="b" style="left:113.5px;top:390px;width:306.5px;height:1.1px;background:#333;"></div>

<!-- landmark table -->
<div class="b" style="left:823.8px;top:213px;width:229.8px;height:1.1px;background:#333;"></div>
<div class="b" style="left:913.2px;top:214px;width:76.7px;height:39px;background:#0760aa;"></div>
<div class="b" style="left:989.9px;top:214px;width:63.7px;height:39px;background:#eb9a20;"></div>
<div class="b" style="left:823.8px;top:252.8px;width:229.8px;height:1.1px;background:#333;"></div>
<div class="b" style="left:823.2px;top:253.9px;width:230.4px;height:23.7px;background:#d9d9d9;"></div>
<div class="b" style="left:912.9px;top:253.9px;width:0.8px;height:23.7px;background:#b5b5b5;"></div>
<div class="b" style="left:989.6px;top:253.9px;width:0.8px;height:23.7px;background:#b5b5b5;"></div>
<div class="b" style="left:823.8px;top:301.2px;width:229.8px;height:1.1px;background:#333;"></div>
<!-- logo -->
<div class="b" style="left:18.7px;top:569px;width:58.3px;height:23.5px;background:#c1162e;"></div>

<svg width="230" height="45" viewBox="0 555 230 45" style="position:absolute;left:0;top:555px">
<path d="M78.7 569.5 H93.4 V575 H85.2 V578.4 H92.4 V583.4 H85.2 V587 H93.4 V592.4 H78.7 Z" fill="#2e6b3f"/>
<path d="M107.2 576.2 C107.2 570.6 96.6 570.4 96.6 576.4 C96.6 582.2 107.6 580.2 107.6 586.4 C107.6 591.8 96.2 591.6 96.2 585.6" fill="none" stroke="#97225f" stroke-width="5.6"/>
<path d="M109.6 592.4 V569.5 H118.4 L121.5 583.5 L124.6 569.5 H133.3 V592.4 H127.2 V578 L123.8 592.4 H119.2 L115.8 578 V592.4 Z" fill="#8c982b"/>
<path d="M141.7 569.2 C135 569.2 132.6 573 132.6 581 C132.6 589 135 592.7 141.7 592.7 C148.4 592.7 150.8 589 150.8 581 C150.8 573 148.4 569.2 141.7 569.2 Z M141.7 574.2 C144 574.2 144.4 576 144.4 581 C144.4 586 144 587.7 141.7 587.7 C139.4 587.7 139 586 139 581 C139 576 139.4 574.2 141.7 574.2 Z" fill="#1f3b6d" fill-rule="evenodd"/>
</svg>
<div class="t" style="right:971.10px;top:381.30px;font-size:10.7px;line-height:12.8px;transform:scaleX(0.8600);transform-origin:right center;color:#222;">0</div>
<div class="t" style="right:971.10px;top:336.70px;font-size:10.7px;line-height:12.8px;transform:scaleX(0.8600);transform-origin:right center;color:#222;">20</div>
<div class="t" style="right:971.10px;top:292.10px;font-size:10.7px;line-height:12.8px;transform:scaleX(0.8600);transform-origin:right center;color:#222;">40</div>
<div class="t" style="right:971.10px;top:247.50px;font-size:10.7px;line-height:12.8px;transform:scaleX(0.8600);transform-origin:right center;color:#222;">60</div>
<div class="t" style="right:971.10px;top:202.90px;font-size:10.7px;line-height:12.8px;transform:scaleX(0.8600);transform-origin:right center;color:#222;">80</div>
<div class="t" style="right:971.10px;top:158.30px;font-size:10.7px;line-height:12.8px;transform:scaleX(0.8600);transform-origin:right center;color:#222;">100</div>
<div class="t" style="left:119.70px;top:401.90px;font-size:10.7px;line-height:12.8px;transform:translateX(-50%) scaleX(0.8500);transform-origin:center center;color:#222;">0</div>
<div class="t" style="left:148.87px;top:401.90px;font-size:10.7px;line-height:12.8px;transform:translateX(-50%) scaleX(0.8500);transform-origin:center center;color:#222;">2</div>
<div class="t" style="left:178.04px;top:401.90px;font-size:10.7px;line-height:12.8px;transform:translateX(-50%) scaleX(0.8500);transform-origin:center center;color:#222;">4</div>
<div class="t" style="left:207.21px;top:401.90px;font-size:10.7px;line-height:12.8px;transform:translateX(-50%) scaleX(0.8500);transform-origin:center center;color:#222;">6</div>
<div class="t" style="left:236.38px;top:401.90px;font-size:10.7px;line-height:12.8px;transform:translateX(-50%) scaleX(0.8500);transform-origin:center center;color:#222;">8</div>
<div class="t" style="left:265.55px;top:401.90px;font-size:10.7px;line-height:12.8px;transform:translateX(-50%) scaleX(0.8500);transform-origin:center center;color:#222;">10</div>
<div class="t" style="left:294.72px;top:401.90px;font-size:10.7px;line-height:12.8px;transform:translateX(-50%) scaleX(0.8500);transform-origin:center center;color:#222;">12</div>
<div class="t" style="left:323.89px;top:401.90px;font-size:10.7px;line-height:12.8px;transform:translateX(-50%) scaleX(0.8500);transform-origin:center center;color:#222;">14</div>
<div class="t" style="left:353.06px;top:401.90px;font-size:10.7px;line-height:12.8px;transform:translateX(-50%) scaleX(0.8500);transform-origin:center center;color:#222;">16</div>
<div class="t" style="left:382.23px;top:401.90px;font-size:10.7px;line-height:12.8px;transform:translateX(-50%) scaleX(0.8500);transform-origin:center center;color:#222;">18</div>
<div class="t" style="left:411.40px;top:401.90px;font-size:10.7px;line-height:12.8px;transform:translateX(-50%) scaleX(0.8500);transform-origin:center center;color:#222;">20</div>
<div class="t" style="left:440.57px;top:401.90px;font-size:10.7px;line-height:12.8px;transform:translateX(-50%) scaleX(0.8500);transform-origin:center center;color:#222;">22</div>
<div class="t" style="left:469.74px;top:401.90px;font-size:10.7px;line-height:12.8px;transform:translateX(-50%) scaleX(0.8500);transform-origin:center center;color:#222;">24</div>
<div class="t" style="left:498.91px;top:401.90px;font-size:10.7px;line-height:12.8px;transform:translateX(-50%) scaleX(0.8500);transform-origin:center center;color:#222;">26</div>
<div class="t" style="left:528.08px;top:401.90px;font-size:10.7px;line-height:12.8px;transform:translateX(-50%) scaleX(0.8500);transform-origin:center center;color:#222;">28</div>
<div class="t" style="left:557.25px;top:401.90px;font-size:10.7px;line-height:12.8px;transform:translateX(-50%) scaleX(0.8500);transform-origin:center center;color:#222;">30</div>
<div class="t" style="left:586.42px;top:401.90px;font-size:10.7px;line-height:12.8px;transform:translateX(-50%) scaleX(0.8500);transform-origin:center center;color:#222;">32</div>
<div class="t" style="left:615.59px;top:401.90px;font-size:10.7px;line-height:12.8px;transform:translateX(-50%) scaleX(0.8500);transform-origin:center center;color:#222;">34</div>
<div class="t" style="left:644.76px;top:401.90px;font-size:10.7px;line-height:12.8px;transform:translateX(-50%) scaleX(0.8500);transform-origin:center center;color:#222;">36</div>
<div class="t" style="left:673.93px;top:401.90px;font-size:10.7px;line-height:12.8px;transform:translateX(-50%) scaleX(0.8500);transform-origin:center center;color:#222;">38</div>
<div class="t" style="left:703.10px;top:401.90px;font-size:10.7px;line-height:12.8px;transform:translateX(-50%) scaleX(0.8500);transform-origin:center center;color:#222;">40</div>
<div class="t" style="left:732.27px;top:401.90px;font-size:10.7px;line-height:12.8px;transform:translateX(-50%) scaleX(0.8500);transform-origin:center center;color:#222;">42</div>
<div class="t" style="left:761.44px;top:401.90px;font-size:10.7px;line-height:12.8px;transform:translateX(-50%) scaleX(0.8500);transform-origin:center center;color:#222;">44</div>
<div class="t" style="left:790.61px;top:401.90px;font-size:10.7px;line-height:12.8px;transform:translateX(-50%) scaleX(0.8500);transform-origin:center center;color:#222;">46</div>
<div class="t" style="left:819.78px;top:401.90px;font-size:10.7px;line-height:12.8px;transform:translateX(-50%) scaleX(0.8500);transform-origin:center center;color:#222;">48</div>
<div class="t" style="left:475.10px;top:414.85px;font-size:10.6px;line-height:12.7px;transform:translateX(-50%) scaleX(0.8450);transform-origin:center center;color:#222;font-weight:bold;">Time, months</div>
<div class="t" style="left:114.20px;top:434.20px;font-size:10.5px;line-height:12.6px;transform:scaleX(0.8550);transform-origin:left center;color:#222;font-weight:bold;">No. of patients still at risk</div>
<div class="t" style="right:970.00px;top:447.80px;font-size:11px;line-height:13.2px;transform:scaleX(0.8120);transform-origin:right center;color:#0760aa;font-weight:bold;">Ribociclib</div>
<div class="t" style="right:968.70px;top:460.70px;font-size:11px;line-height:13.2px;transform:scaleX(0.8000);transform-origin:right center;color:#eb9a20;font-weight:bold;">Placebo</div>
<div class="t" style="left:121.30px;top:449.20px;font-size:8.8px;line-height:10.6px;transform:translateX(-50%) scaleX(0.9000);transform-origin:center center;color:#222;">484</div>
<div class="t" style="left:120.00px;top:460.50px;font-size:8.8px;line-height:10.6px;transform:translateX(-50%) scaleX(0.9000);transform-origin:center center;color:#222;">242</div>
<div class="t" style="left:150.57px;top:449.20px;font-size:8.8px;line-height:10.6px;transform:translateX(-50%) scaleX(0.9000);transform-origin:center center;color:#222;">470</div>
<div class="t" style="left:149.33px;top:460.50px;font-size:8.8px;line-height:10.6px;transform:translateX(-50%) scaleX(0.9000);transform-origin:center center;color:#222;">233</div>
<div class="t" style="left:179.84px;top:449.20px;font-size:8.8px;line-height:10.6px;transform:translateX(-50%) scaleX(0.9000);transform-origin:center center;color:#222;">454</div>
<div class="t" style="left:178.66px;top:460.50px;font-size:8.8px;line-height:10.6px;transform:translateX(-50%) scaleX(0.9000);transform-origin:center center;color:#222;">227</div>
<div class="t" style="left:209.11px;top:449.20px;font-size:8.8px;line-height:10.6px;transform:translateX(-50%) scaleX(0.9000);transform-origin:center center;color:#222;">444</div>
<div class="t" style="left:207.99px;top:460.50px;font-size:8.8px;line-height:10.6px;transform:translateX(-50%) scaleX(0.9000);transform-origin:center center;color:#222;">223</div>
<div class="t" style="left:238.38px;top:449.20px;font-size:8.8px;line-height:10.6px;transform:translateX(-50%) scaleX(0.9000);transform-origin:center center;color:#222;">436</div>
<div class="t" style="left:237.32px;top:460.50px;font-size:8.8px;line-height:10.6px;transform:translateX(-50%) scaleX(0.9000);transform-origin:center center;color:#222;">218</div>
<div class="t" style="left:267.65px;top:449.20px;font-size:8.8px;line-height:10.6px;transform:translateX(-50%) scaleX(0.9000);transform-origin:center center;color:#222;">428</div>
<div class="t" style="left:266.65px;top:460.50px;font-size:8.8px;line-height:10.6px;transform:translateX(-50%) scaleX(0.9000);transform-origin:center center;color:#222;">213</div>
<div class="t" style="left:296.92px;top:449.20px;font-size:8.8px;line-height:10.6px;transform:translateX(-50%) scaleX(0.9000);transform-origin:center center;color:#222;">414</div>
<div class="t" style="left:295.98px;top:460.50px;font-size:8.8px;line-height:10.6px;transform:translateX(-50%) scaleX(0.9000);transform-origin:center center;color:#222;">207</div>
<div class="t" style="left:326.09px;top:449.20px;font-size:8.8px;line-height:10.6px;transform:translateX(-50%) scaleX(0.9000);transform-origin:center center;color:#222;">402</div>
<div class="t" style="left:325.31px;top:460.50px;font-size:8.8px;line-height:10.6px;transform:translateX(-50%) scaleX(0.9000);transform-origin:center center;color:#222;">199</div>
<div class="t" style="left:355.26px;top:449.20px;font-size:8.8px;line-height:10.6px;transform:translateX(-50%) scaleX(0.9000);transform-origin:center center;color:#222;">397</div>
<div class="t" style="left:354.64px;top:460.50px;font-size:8.8px;line-height:10.6px;transform:translateX(-50%) scaleX(0.9000);transform-origin:center center;color:#222;">194</div>
<div class="t" style="left:384.43px;top:449.20px;font-size:8.8px;line-height:10.6px;transform:translateX(-50%) scaleX(0.9000);transform-origin:center center;color:#222;">389</div>
<div class="t" style="left:383.97px;top:460.50px;font-size:8.8px;line-height:10.6px;transform:translateX(-50%) scaleX(0.9000);transform-origin:center center;color:#222;">187</div>
<div class="t" style="left:413.60px;top:449.20px;font-size:8.8px;line-height:10.6px;transform:translateX(-50%) scaleX(0.9000);transform-origin:center center;color:#222;">374</div>
<div class="t" style="left:413.30px;top:460.50px;font-size:8.8px;line-height:10.6px;transform:translateX(-50%) scaleX(0.9000);transform-origin:center center;color:#222;">184</div>
<div class="t" style="left:442.77px;top:449.20px;font-size:8.8px;line-height:10.6px;transform:translateX(-50%) scaleX(0.9000);transform-origin:center center;color:#222;">365</div>
<div class="t" style="left:442.47px;top:460.50px;font-size:8.8px;line-height:10.6px;transform:translateX(-50%) scaleX(0.9000);transform-origin:center center;color:#222;">174</div>
<div class="t" style="left:471.94px;top:449.20px;font-size:8.8px;line-height:10.6px;transform:translateX(-50%) scaleX(0.9000);transform-origin:center center;color:#222;">348</div>
<div class="t" style="left:471.64px;top:460.50px;font-size:8.8px;line-height:10.6px;transform:translateX(-50%) scaleX(0.9000);transform-origin:center center;color:#222;">169</div>
<div class="t" style="left:501.11px;top:449.20px;font-size:8.8px;line-height:10.6px;transform:translateX(-50%) scaleX(0.9000);transform-origin:center center;color:#222;">334</div>
<div class="t" style="left:500.81px;top:460.50px;font-size:8.8px;line-height:10.6px;transform:translateX(-50%) scaleX(0.9000);transform-origin:center center;color:#222;">159</div>
<div class="t" style="left:530.28px;top:449.20px;font-size:8.8px;line-height:10.6px;transform:translateX(-50%) scaleX(0.9000);transform-origin:center center;color:#222;">326</div>
<div class="t" style="left:529.98px;top:460.50px;font-size:8.8px;line-height:10.6px;transform:translateX(-50%) scaleX(0.9000);transform-origin:center center;color:#222;">155</div>
<div class="t" style="left:559.45px;top:449.20px;font-size:8.8px;line-height:10.6px;transform:translateX(-50%) scaleX(0.9000);transform-origin:center center;color:#222;">309</div>
<div class="t" style="left:559.15px;top:460.50px;font-size:8.8px;line-height:10.6px;transform:translateX(-50%) scaleX(0.9000);transform-origin:center center;color:#222;">147</div>
<div class="t" style="left:588.62px;top:449.20px;font-size:8.8px;line-height:10.6px;transform:translateX(-50%) scaleX(0.9000);transform-origin:center center;color:#222;">300</div>
<div class="t" style="left:588.32px;top:460.50px;font-size:8.8px;line-height:10.6px;transform:translateX(-50%) scaleX(0.9000);transform-origin:center center;color:#222;">141</div>
<div class="t" style="left:617.79px;top:449.20px;font-size:8.8px;line-height:10.6px;transform:translateX(-50%) scaleX(0.9000);transform-origin:center center;color:#222;">287</div>
<div class="t" style="left:617.49px;top:460.50px;font-size:8.8px;line-height:10.6px;transform:translateX(-50%) scaleX(0.9000);transform-origin:center center;color:#222;">134</div>
<div class="t" style="left:646.96px;top:449.20px;font-size:8.8px;line-height:10.6px;transform:translateX(-50%) scaleX(0.9000);transform-origin:center center;color:#222;">237</div>
<div class="t" style="left:646.66px;top:460.50px;font-size:8.8px;line-height:10.6px;transform:translateX(-50%) scaleX(0.9000);transform-origin:center center;color:#222;">107</div>
<div class="t" style="left:676.13px;top:449.20px;font-size:8.8px;line-height:10.6px;transform:translateX(-50%) scaleX(0.9000);transform-origin:center center;color:#222;">159</div>
<div class="t" style="left:675.83px;top:460.50px;font-size:8.8px;line-height:10.6px;transform:translateX(-50%) scaleX(0.9000);transform-origin:center center;color:#222;">64</div>
<div class="t" style="left:705.30px;top:449.20px;font-size:8.8px;line-height:10.6px;transform:translateX(-50%) scaleX(0.9000);transform-origin:center center;color:#222;">92</div>
<div class="t" style="left:705.00px;top:460.50px;font-size:8.8px;line-height:10.6px;transform:translateX(-50%) scaleX(0.9000);transform-origin:center center;color:#222;">37</div>
<div class="t" style="left:734.47px;top:449.20px;font-size:8.8px;line-height:10.6px;transform:translateX(-50%) scaleX(0.9000);transform-origin:center center;color:#222;">41</div>
<div class="t" style="left:734.17px;top:460.50px;font-size:8.8px;line-height:10.6px;transform:translateX(-50%) scaleX(0.9000);transform-origin:center center;color:#222;">14</div>
<div class="t" style="left:763.64px;top:449.20px;font-size:8.8px;line-height:10.6px;transform:translateX(-50%) scaleX(0.9000);transform-origin:center center;color:#222;">14</div>
<div class="t" style="left:763.34px;top:460.50px;font-size:8.8px;line-height:10.6px;transform:translateX(-50%) scaleX(0.9000);transform-origin:center center;color:#222;">3</div>
<div class="t" style="left:792.81px;top:449.20px;font-size:8.8px;line-height:10.6px;transform:translateX(-50%) scaleX(0.9000);transform-origin:center center;color:#222;">2</div>
<div class="t" style="left:792.51px;top:460.50px;font-size:8.8px;line-height:10.6px;transform:translateX(-50%) scaleX(0.9000);transform-origin:center center;color:#222;">0</div>
<div class="t" style="left:821.98px;top:449.20px;font-size:8.8px;line-height:10.6px;transform:translateX(-50%) scaleX(0.9000);transform-origin:center center;color:#222;">0</div>
<div class="t" style="left:821.68px;top:460.50px;font-size:8.8px;line-height:10.6px;transform:translateX(-50%) scaleX(0.9000);transform-origin:center center;color:#222;">0</div>
<div class="t" style="left:499.70px;top:179.80px;font-size:16px;line-height:19.2px;transform:scaleX(0.9700);transform-origin:left center;color:#0760aa;font-weight:bold;-webkit-text-stroke:0.4px currentColor;">RIB + FUL</div>
<div class="t" style="left:457.90px;top:229.80px;font-size:16px;line-height:19.2px;transform:scaleX(0.9780);transform-origin:left center;color:#eb9a20;font-weight:bold;-webkit-text-stroke:0.4px currentColor;">PBO + FUL</div>
<div class="t" style="left:263.00px;top:271.10px;font-size:11.7px;line-height:14.0px;transform:translateX(-50%) scaleX(1.0000);transform-origin:center center;color:#fff;font-weight:bold;-webkit-text-stroke:0;">RIB + FUL</div>
<div class="t" style="left:366.50px;top:271.10px;font-size:11.7px;line-height:14.0px;transform:translateX(-50%) scaleX(1.0000);transform-origin:center center;color:#fff;font-weight:bold;-webkit-text-stroke:0;">PBO + FUL</div>
<div class="t" style="left:121.00px;top:292.90px;font-size:11.7px;line-height:14.0px;transform:scaleX(1.0000);transform-origin:left center;color:#1a1a1a;">Events/N</div>
<div class="t" style="left:263.80px;top:292.90px;font-size:11.7px;line-height:14.0px;transform:translateX(-50%) scaleX(1.0000);transform-origin:center center;color:#1a1a1a;">167/484</div>
<div class="t" style="left:366.50px;top:292.90px;font-size:11.7px;line-height:14.0px;transform:translateX(-50%) scaleX(1.0000);transform-origin:center center;color:#1a1a1a;">108/242</div>
<div class="t" style="left:121.00px;top:315.60px;font-size:11.7px;line-height:14.0px;transform:scaleX(1.0000);transform-origin:left center;color:#1a1a1a;">OS, median</div>
<div class="t" style="left:121.00px;top:329.40px;font-size:11.7px;line-height:14.0px;transform:scaleX(1.0000);transform-origin:left center;color:#1a1a1a;">(95% CI), mo</div>
<div class="t" style="left:263.80px;top:322.60px;font-size:11.7px;line-height:14.0px;transform:translateX(-50%) scaleX(1.0000);transform-origin:center center;color:#1a1a1a;">NR (42.5-NR)</div>
<div class="t" style="left:366.50px;top:322.60px;font-size:11.7px;line-height:14.0px;transform:translateX(-50%) scaleX(1.0000);transform-origin:center center;color:#1a1a1a;">40.0 (37.0-NR)</div>
<div class="t" style="left:121.00px;top:351.10px;font-size:11.7px;line-height:14.0px;transform:scaleX(1.0000);transform-origin:left center;color:#1a1a1a;">HR (95% CI)</div>
<div class="t" style="left:316.50px;top:351.10px;font-size:11.7px;line-height:14.0px;transform:translateX(-50%) scaleX(1.0000);transform-origin:center center;color:#1a1a1a;font-weight:bold;">0.724 (0.568-0.924)</div>
<div class="t" style="left:121.00px;top:373.30px;font-size:11.7px;line-height:14.0px;transform:scaleX(1.0000);transform-origin:left center;color:#1a1a1a;"><i>P</i> value</div>
<div class="t" style="left:316.50px;top:373.30px;font-size:11.7px;line-height:14.0px;transform:translateX(-50%) scaleX(1.0000);transform-origin:center center;color:#1a1a1a;">0.00455</div>
<div class="t" style="left:937.40px;top:184.05px;font-size:15.45px;line-height:18.5px;transform:translateX(-50%) scaleX(1.0000);transform-origin:center center;color:#000;font-weight:bold;">Landmark Analysis</div>
<div class="t" style="left:831.60px;top:217.70px;font-size:13.2px;line-height:15.8px;transform:scaleX(1.0000);transform-origin:left center;color:#000;font-weight:bold;">KM</div>
<div class="t" style="left:831.60px;top:233.90px;font-size:13.2px;line-height:15.8px;transform:scaleX(1.0000);transform-origin:left center;color:#000;font-weight:bold;">Estimate</div>
<div class="t" style="left:951.50px;top:217.70px;font-size:13.2px;line-height:15.8px;transform:translateX(-50%) scaleX(1.0000);transform-origin:center center;color:#fff;font-weight:bold;-webkit-text-stroke:0;">RIB +</div>
<div class="t" style="left:951.50px;top:233.90px;font-size:13.2px;line-height:15.8px;transform:translateX(-50%) scaleX(1.0000);transform-origin:center center;color:#fff;font-weight:bold;-webkit-text-stroke:0;">FUL</div>
<div class="t" style="left:1021.50px;top:217.70px;font-size:13.2px;line-height:15.8px;transform:translateX(-50%) scaleX(1.0000);transform-origin:center center;color:#fff;font-weight:bold;-webkit-text-stroke:0;">PBO +</div>
<div class="t" style="left:1021.50px;top:233.90px;font-size:13.2px;line-height:15.8px;transform:translateX(-50%) scaleX(1.0000);transform-origin:center center;color:#fff;font-weight:bold;-webkit-text-stroke:0;">FUL</div>
<div class="t" style="left:831.60px;top:257.90px;font-size:13.2px;line-height:15.8px;transform:scaleX(1.0000);transform-origin:left center;color:#1a1a1a;">36 months</div>
<div class="t" style="left:951.00px;top:257.90px;font-size:13.2px;line-height:15.8px;transform:translateX(-50%) scaleX(1.0000);transform-origin:center center;color:#1a1a1a;">67.0%</div>
<div class="t" style="left:1021.00px;top:257.90px;font-size:13.2px;line-height:15.8px;transform:translateX(-50%) scaleX(1.0000);transform-origin:center center;color:#1a1a1a;">58.2%</div>
<div class="t" style="left:831.60px;top:282.00px;font-size:13.2px;line-height:15.8px;transform:scaleX(1.0000);transform-origin:left center;color:#1a1a1a;">42 months</div>
<div class="t" style="left:951.00px;top:282.00px;font-size:13.2px;line-height:15.8px;transform:translateX(-50%) scaleX(1.0000);transform-origin:center center;color:#1a1a1a;">57.8%</div>
<div class="t" style="left:1021.00px;top:282.00px;font-size:13.2px;line-height:15.8px;transform:translateX(-50%) scaleX(1.0000);transform-origin:center center;color:#1a1a1a;">45.9%</div>
<div class="t" style="left:62.80px;top:509.50px;font-size:20px;line-height:24.0px;transform:scaleX(1.0000);transform-origin:left center;color:#000;">&bull;</div>
<div class="t" style="left:82.90px;top:510.50px;font-size:20.03px;line-height:24.0px;transform:scaleX(1.0000);transform-origin:left center;color:#000;">The <i>P</i> value of 0.00455 crossed the prespecified boundary to claim superior efficacy (<i>P</i> &lt;0.01129)</div>
<div class="t" style="left:220.50px;top:573.70px;font-size:8.8px;line-height:10.6px;transform:scaleX(1.0135);transform-origin:left center;color:#6e6e6e;">FUL, fulvestrant; HR, hazard ratio; KM, Kaplan-Meier; NR, not reached; OS, overall survival; PBO, placebo; RIB, ribociclib.</div>
<div class="t" style="left:963.00px;top:580.15px;font-size:8.4px;line-height:10.1px;transform:translateX(-50%) scaleX(1.0000);transform-origin:center center;color:#8a8a8a;">8</div>
<div class="t" style="left:22.80px;top:571.60px;font-size:7.8px;line-height:9.4px;transform:scaleX(1.0000);transform-origin:left center;color:#fff;letter-spacing:0.3px;-webkit-text-stroke:0;">BARCELONA</div>
<div class="t" style="left:22.60px;top:580.10px;font-size:9.2px;line-height:11.0px;transform:scaleX(1.0000);transform-origin:left center;color:#fff;letter-spacing:0.2px;-webkit-text-stroke:0;">2019</div>
<div class="t" style="left:147.60px;top:559.55px;font-size:14.6px;line-height:17.5px;transform:scaleX(0.9650);transform-origin:left center;color:#b9152d;font-weight:bold;-webkit-text-stroke:0.7px #b9152d;">congress</div>
</body></html>
